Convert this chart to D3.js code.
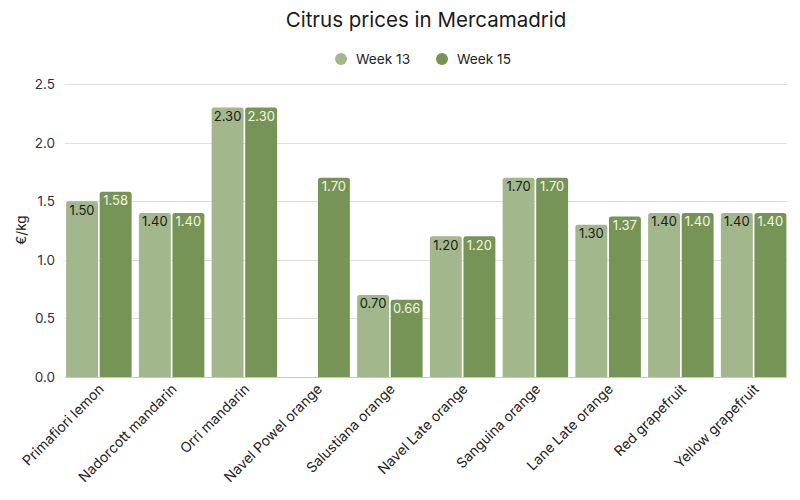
<!DOCTYPE html>
<html><head><meta charset="utf-8">
<script src="https://cdn.jsdelivr.net/npm/d3@7"></script>
<style>body{margin:0;background:#fff}svg{display:block}text{font-family:Inter,"Noto Sans",sans-serif}</style>
</head><body><svg id="c" width="800" height="500"></svg>
<script>
const categories = ["Primafiori lemon","Nadorcott mandarin","Orri mandarin","Navel Powel orange","Salustiana orange","Navel Late orange","Sanguina orange","Lane Late orange","Red grapefruit","Yellow grapefruit"];
const seriesNames = ["Week 13","Week 15"];
const week13 = [1.50,1.40,2.30,null,0.70,1.20,1.70,1.30,1.40,1.40];
const week15 = [1.58,1.40,2.30,1.70,0.66,1.20,1.70,1.37,1.40,1.40];
const yTicks = [0,0.5,1.0,1.5,2.0,2.5];
const colors = ["#a2b78c","#769455"];
const labelColors = ["#1a1a1a","#f2f6e4"];

const svg = d3.select("#c");
const x0 = d3.scaleBand().domain(categories).range([62.5,790]).paddingInner(0.1).paddingOuter(0.05);
const x1 = d3.scaleBand().domain(seriesNames).range([0,x0.bandwidth()]).paddingInner(0.05);
const y = d3.scaleLinear().domain([0,2.5]).range([377,84]);

svg.append("text").attr("x",426).attr("y",27).attr("text-anchor","middle").attr("font-size",20.5).attr("fill","#1a1a1a").text("Citrus prices in Mercamadrid");

// legend
const leg = [{x:341,tx:356},{x:442,tx:457}];
seriesNames.forEach((s,i)=>{
  svg.append("circle").attr("cx",leg[i].x).attr("cy",59).attr("r",6).attr("fill",colors[i]);
  svg.append("text").attr("x",leg[i].tx).attr("y",64).attr("font-size",13.7).attr("fill","#222").text(s);
});

// grid
const g = svg.append("g");
g.selectAll("line.grid").data(yTicks).join("line")
  .attr("x1",65).attr("x2",787).attr("y1",d=>Math.round(y(d))+0.5).attr("y2",d=>Math.round(y(d))+0.5)
  .attr("stroke",d=>d===0?"#c8c8c8":"#dedede").attr("stroke-width",1);
g.selectAll("text.yt").data(yTicks).join("text")
  .attr("x",55).attr("y",d=>y(d)+5).attr("text-anchor","end").attr("font-size",13.5).attr("fill","#333")
  .text(d=>d.toFixed(1));
svg.append("text").attr("transform","translate(26,230) rotate(-90)").attr("text-anchor","middle").attr("font-size",13.5).attr("fill","#222").text("€/kg");

const data = [week13, week15];
function barPath(xp,w,yt,yb,r){
  return `M${xp},${yb}V${yt+r}Q${xp},${yt} ${xp+r},${yt}H${xp+w-r}Q${xp+w},${yt} ${xp+w},${yt+r}V${yb}Z`;
}
categories.forEach((c,ci)=>{
  seriesNames.forEach((s,si)=>{
    const v = data[si][ci];
    if(v==null) return;
    const xp = x0(c)+x1(s), w = x1.bandwidth();
    svg.append("path").attr("d",barPath(xp,w,y(v),y(0),2.5)).attr("fill",colors[si]);
    svg.append("text").attr("x",xp+w/2).attr("y",y(v)+13.5).attr("text-anchor","middle")
      .attr("font-size",13).attr("fill",labelColors[si]).text(v.toFixed(2));
  });
});

// x labels
categories.forEach(c=>{
  const cx = x0(c)+x0.bandwidth()/2;
  svg.append("text").attr("transform",`translate(${cx+6},${390}) rotate(-45)`).attr("text-anchor","end")
    .attr("font-size",14).attr("fill","#222").text(c);
});
</script></body></html>
